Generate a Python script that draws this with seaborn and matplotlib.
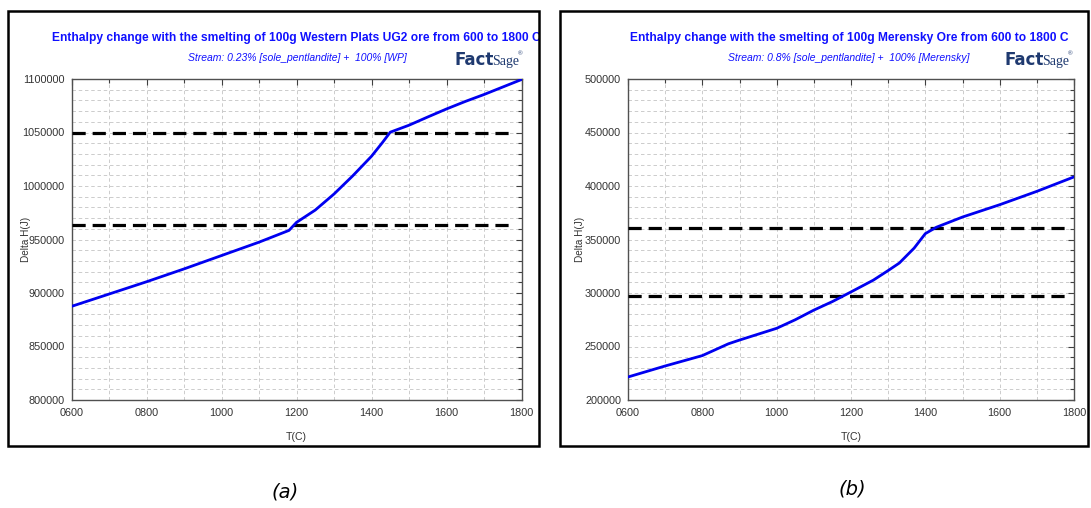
import matplotlib
matplotlib.use("Agg")
import matplotlib.pyplot as plt
from matplotlib.patches import Rectangle
from matplotlib.ticker import MultipleLocator, FuncFormatter
import seaborn as sns
import pandas as pd

# Western Plats UG2 ore: enthalpy vs temperature
t_ug2 = [600, 700, 800, 900, 1000, 1100, 1180, 1200, 1250, 1300, 1350,
         1400, 1430, 1450, 1500, 1550, 1600, 1650, 1700, 1750, 1800]
h_ug2 = [887500, 899000, 910500, 922500, 935000, 947500, 958500, 966000,
         977500, 992500, 1009500, 1027800, 1041000, 1050300, 1056800,
         1064500, 1072000, 1079000, 1085500, 1092500, 1099500]
ref_ug2 = [964000, 1050000]

# Merensky ore: enthalpy vs temperature
t_mer = [600, 700, 800, 870, 900, 1000, 1050, 1100, 1150, 1200, 1260, 1300,
         1330, 1370, 1400, 1430, 1500, 1600, 1700, 1800]
h_mer = [221500, 231800, 241500, 252500, 256000, 267000, 275000, 284000,
         292000, 301000, 312000, 321000, 328000, 342000, 355500, 361500,
         371000, 382500, 395000, 408500]
ref_mer = [297500, 360500]

titles = [
    "Enthalpy change with the smelting of 100g Western Plats UG2 ore from 600 to 1800 C",
    "Enthalpy change with the smelting of 100g Merensky Ore from 600 to 1800 C",
]
subtitles = [
    "Stream: 0.23% [sole_pentlandite] +  100% [WP]",
    "Stream: 0.8% [sole_pentlandite] +  100% [Merensky]",
]
panel_tags = ["(a)", "(b)"]
y_ranges = [(800000, 1100000), (200000, 500000)]

sns.set_style("white")
plt.rcParams["font.family"] = ["Liberation Sans", "DejaVu Sans"]
plt.rcParams["lines.scale_dashes"] = False

W, H = 1091, 508
fig = plt.figure(figsize=(W / 100, H / 100), dpi=100)

def fx(px):
    return px / W

def fy(py):
    return 1 - py / H

AX_TOP, AX_BOT = 79, 400

panels = [
    dict(ax=(71.5, 521.5), frame=(8, 539), ylab=31, title=("left", 52), sub_c=297,
         logo_x=454, tag_x=285, tag_y=492, t=t_ug2, h=h_ug2, ref=ref_ug2),
    dict(ax=(628, 1074), frame=(560, 1088), ylab=585, title=("center", 849), sub_c=849,
         logo_x=1004, tag_x=852, tag_y=489, t=t_mer, h=h_mer, ref=ref_mer),
]

blue = "#1010ff"
navy = "#1f3a70"
tick_col = "#333333"

for i, p in enumerate(panels):
    x0, x1 = p["ax"]
    ax_h = AX_BOT - AX_TOP
    ax = fig.add_axes([fx(x0), fy(AX_BOT), fx(x1 - x0), ax_h / H])
    df = pd.DataFrame({"T(C)": p["t"], "Delta H(J)": p["h"]})

    ax.hlines(p["ref"], 600, 1778, colors="black", linewidth=2.3,
              linestyles=(0, (9.5, 5.0)), zorder=3)
    sns.lineplot(data=df, x="T(C)", y="Delta H(J)", ax=ax, color="#0000f0",
                 linewidth=2.0, zorder=4)

    ax.set_xlim(600, 1800)
    ax.set_ylim(*y_ranges[i])
    ax.xaxis.set_major_locator(MultipleLocator(200))
    ax.xaxis.set_minor_locator(MultipleLocator(100))
    ax.yaxis.set_major_locator(MultipleLocator(50000))
    ax.yaxis.set_minor_locator(MultipleLocator(10000))
    ax.xaxis.set_major_formatter(FuncFormatter(lambda v, pos: f"{int(round(v)):04d}"))
    ax.yaxis.set_major_formatter(FuncFormatter(lambda v, pos: f"{int(round(v))}"))

    ax.grid(True, which="both", color="#c4c4c4", linestyle=(0, (2.5, 2.0)), linewidth=0.6)
    ax.tick_params(which="both", direction="in", top=True, right=True,
                   colors="#404040", labelcolor=tick_col, labelsize=7.8, width=0.8)
    ax.tick_params(which="major", length=4)
    ax.tick_params(which="minor", length=3)
    ax.tick_params(axis="x", pad=6)
    ax.tick_params(axis="y", pad=5)
    for s in ax.spines.values():
        s.set_color("#505050")
        s.set_linewidth(1.0)

    ax.set_xlabel("T(C)", fontsize=7.6, color=tick_col)
    ax.xaxis.set_label_coords(0.5, -32 / ax_h, transform=ax.transAxes)
    ax.set_ylabel("Delta H(J)", fontsize=7.2, color=tick_col)
    ax.yaxis.set_label_coords(-(x0 - p["ylab"]) / (x1 - x0), 0.5)

    f0, f1 = p["frame"]
    frame = Rectangle((fx(f0), fy(446)), fx(f1 - f0), (446 - 11) / H,
                      transform=fig.transFigure, fill=False, ec="black", lw=1.8, zorder=10)
    fig.patches.append(frame)

    align, tx = p["title"]
    ttl = fig.text(fx(tx), fy(37.5), titles[i], ha=align, va="center",
                   fontsize=8.65, fontweight="bold", color=blue)
    ttl.set_clip_path(frame)
    fig.text(fx(p["sub_c"]), fy(58), subtitles[i], ha="center", va="center",
             fontsize=7.5, fontstyle="italic", color=blue)

    lx = p["logo_x"]
    fig.text(fx(lx), fy(60), "Fact", ha="left", va="center", fontsize=12,
             fontweight="heavy", color=navy, family="DejaVu Sans")
    fig.text(fx(lx + 38), fy(61), "Sage", ha="left", va="center", fontsize=10,
             color=navy, family="Liberation Serif", fontstretch="condensed")
    fig.text(fx(lx + 64), fy(54), "\u00ae", ha="left", va="center", fontsize=4.5,
             color=navy)

    fig.text(fx(p["tag_x"]), fy(p["tag_y"]), panel_tags[i], ha="center", va="center",
             fontsize=14, fontstyle="italic", color="black", family="DejaVu Sans")

fig.savefig("out.png", dpi=100)
